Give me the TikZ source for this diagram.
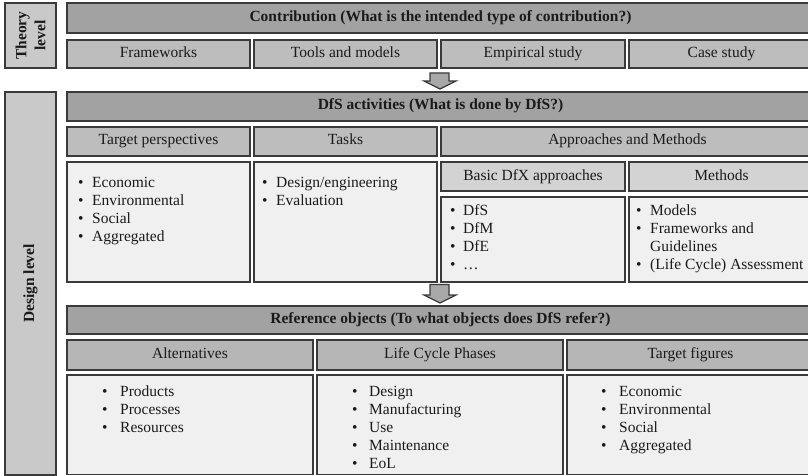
\documentclass[tikz,border=0pt]{standalone}
\usepackage{fontspec}
\setmainfont{Liberation Serif}
\definecolor{lev}{HTML}{C9C9C9}
\definecolor{hdr}{HTML}{A2A2A2}
\definecolor{sub}{HTML}{BDBDBD}
\definecolor{subb}{HTML}{B6B6B6}
\definecolor{sub2}{HTML}{D3D3D3}
\definecolor{cont}{HTML}{F0F0F0}
\definecolor{edge}{HTML}{3A3A3A}
\definecolor{ink}{HTML}{1A1A1A}
\definecolor{arrfill}{HTML}{A8A8A8}
\newcommand\bx[7]{%
  \node[#1, minimum width={(#5-#3)*1pt}, minimum height={(#6-#4)*1pt}]
    (#2) at ({(#3+#5)/2},{(#4+#6)/2}) {#7};}
\newcommand\itm[5]{% name, x, y, gap, text
  \node[item] (#1) at (#2,#3) {\makebox[#4pt][l]{\textbullet}#5};}
\newcommand\itc[4]{% name, x, y, text (continuation line)
  \node[item] (#1) at (#2,#3) {#4};}
\begin{document}
\begin{tikzpicture}[x=1pt,y=-1pt,
  base/.style={draw=edge, line width=1.3pt, inner sep=0pt, outer sep=0pt,
    text=ink, font=\fontsize{15.5}{18}\selectfont, text height=10pt, text depth=3pt},
  levbox/.style={base, fill=lev, font=\bfseries\fontsize{15.5}{19}\selectfont, align=center, rotate=90, text height=, text depth=},
  hdrbox/.style={base, fill=hdr, font=\bfseries\fontsize{15.5}{18}\selectfont},
  subbox/.style={base, fill=sub},
  subbbox/.style={base, fill=subb},
  sub2box/.style={base, fill=sub2},
  contbox/.style={base, fill=cont},
  item/.style={anchor=base west, inner sep=0pt, text=ink, font=\fontsize{15.5}{18}\selectfont},
  blockarrow/.style={draw=edge, line width=1.2pt, fill=arrfill, line join=miter}
]
\useasboundingbox (0,0) rectangle (808,476);
\fill[white] (0,0) rectangle (808,476);

% level boxes (rotated: width/height swapped)
\node[levbox, minimum width=65pt, minimum height=51pt] (theory) at (30.5,35.5) {Theory\\level};
\node[levbox, minimum width=383pt, minimum height=51pt] (design) at (30.5,283.5) {Design level};

% theory level
\bx{hdrbox}{contrib}{67}{3}{814}{33}{Contribution (What is the intended type of contribution?)}
\bx{subbox}{fw}{67}{40}{250}{68}{Frameworks}
\bx{subbox}{tools}{254}{40}{437}{68}{Tools and models}
\bx{subbox}{emp}{441}{40}{625}{68}{Empirical study}
\bx{subbox}{case}{629}{40}{814}{68}{Case study}

% arrow 1
\draw[blockarrow] (430,73) -- (449,73) -- (449,81) -- (456,81) -- (440,89) -- (424,81) -- (430,81) -- cycle;

% DfS activities
\bx{hdrbox}{dfs}{67}{92}{814}{121}{DfS activities (What is done by DfS?)}
\bx{subbox}{tp}{67}{127}{250}{156}{Target perspectives}
\bx{subbox}{tasks}{254}{127}{437}{156}{Tasks}
\bx{subbox}{appr}{441}{127}{814}{156}{Approaches and Methods}
\bx{contbox}{tpc}{67}{162}{250}{282}{}
\bx{contbox}{tasksc}{254}{162}{437}{282}{}
\bx{sub2box}{basic}{441}{162}{625}{191}{Basic DfX approaches}
\bx{sub2box}{meth}{629}{162}{814}{191}{Methods}
\bx{contbox}{basicc}{441}{197}{625}{282}{}
\bx{contbox}{methc}{629}{197}{814}{282}{}

\itm{tp1}{78}{187}{14}{Economic}
\itm{tp2}{78}{205}{14}{Environmental}
\itm{tp3}{78}{223}{14}{Social}
\itm{tp4}{78}{241}{14}{Aggregated}

\itm{ts1}{262}{187}{14}{Design/engineering}
\itm{ts2}{262}{205}{14}{Evaluation}

\itm{bd1}{450}{215}{13}{DfS}
\itm{bd2}{450}{233}{13}{DfM}
\itm{bd3}{450}{251}{13}{DfE}
\itm{bd4}{450}{269}{13}{…}

\itm{mt1}{636}{215}{14}{Models}
\itm{mt2}{636}{233}{14}{Frameworks and}
\itc{mt3}{650}{251}{Guidelines}
\itm{mt4}{636}{269}{14}{(Life Cycle) Assessment}

% arrow 2
\draw[blockarrow] (430,284.5) -- (449,284.5) -- (449,295) -- (456,295) -- (440,303) -- (424,295) -- (430,295) -- cycle;

% Reference objects
\bx{hdrbox}{ref}{67}{306}{814}{334}{Reference objects (To what objects does DfS refer?)}
\bx{subbbox}{alt}{67}{340}{313}{370}{Alternatives}
\bx{subbbox}{lcp}{317}{340}{563}{370}{Life Cycle Phases}
\bx{subbbox}{tf}{567}{340}{814}{370}{Target figures}
\bx{contbox}{altc}{67}{375}{313}{474.5}{}
\bx{contbox}{lcpc}{317}{375}{563}{474.5}{}
\bx{contbox}{tfc}{567}{375}{814}{474.5}{}

\itm{al1}{102}{396}{18}{Products}
\itm{al2}{102}{414}{18}{Processes}
\itm{al3}{102}{432}{18}{Resources}

\itm{lc1}{352}{396}{17}{Design}
\itm{lc2}{352}{414}{17}{Manufacturing}
\itm{lc3}{352}{432}{17}{Use}
\itm{lc4}{352}{450}{17}{Maintenance}
\itm{lc5}{352}{468}{17}{EoL}

\itm{tf1}{601}{396}{18}{Economic}
\itm{tf2}{601}{414}{18}{Environmental}
\itm{tf3}{601}{432}{18}{Social}
\itm{tf4}{601}{450}{18}{Aggregated}
\end{tikzpicture}
\end{document}
